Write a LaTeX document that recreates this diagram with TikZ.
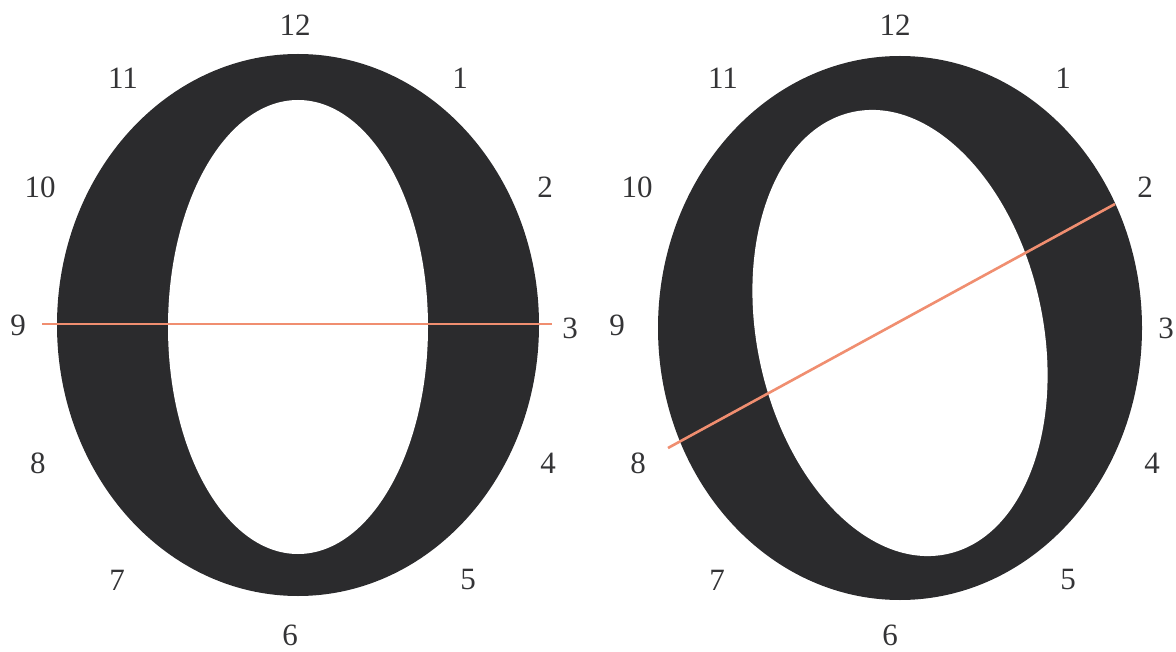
\documentclass[tikz,border=0pt]{standalone}
\usepackage{fontspec}
\setmainfont{Liberation Serif}
\usepackage{tikz}

\definecolor{ink}{RGB}{43,43,45}
\definecolor{salmon}{RGB}{240,142,112}
\definecolor{numgray}{RGB}{52,52,54}

\begin{document}
\begin{tikzpicture}[
  x=1pt, y=-1pt,
  hour/.style={font=\fontsize{31}{34}\selectfont, text=numgray, inner sep=0pt},
  glyph/.style={fill=ink},
  counter/.style={fill=white},
  axisline/.style={draw=salmon, line width=2.6pt}
]
\useasboundingbox (0,0) rectangle (1176,652);

% ---- LEFT letter: vertical stress ----
\fill[glyph]   (298,325) ellipse [x radius=241, y radius=271];
\fill[counter] (298,327) ellipse [x radius=130, y radius=227];

\node[hour] (l12) at (295,25)  {12};
\node[hour] (l1)  at (460,78)  {1};
\node[hour] (l2)  at (545,187) {2};
\node[hour] (l3)  at (570,328) {3};
\node[hour] (l4)  at (548,463) {4};
\node[hour] (l5)  at (468,580) {5};
\node[hour] (l6)  at (290,635) {6};
\node[hour] (l7)  at (117,580) {7};
\node[hour] (l8)  at (38,463)  {8};
\node[hour] (l9)  at (18,325)  {9};
\node[hour] (l10) at (40,187)  {10};
\node[hour] (l11) at (123,78)  {11};

\coordinate (lA) at (42,324);
\coordinate (lB) at (552,324);
\draw[axisline] (lA) -- (lB);

% ---- RIGHT letter: tilted stress ----
\fill[glyph] (900,328) ellipse [x radius=242, y radius=272];
\fill[counter, rotate around={12:(900,333)}] (900,333) ellipse [x radius=143, y radius=226];

\node[hour] (r12) at (895,25)  {12};
\node[hour] (r1)  at (1063,78) {1};
\node[hour] (r2)  at (1145,187) {2};
\node[hour] (r3)  at (1166,328) {3};
\node[hour] (r4)  at (1152,463) {4};
\node[hour] (r5)  at (1068,580) {5};
\node[hour] (r6)  at (890,635) {6};
\node[hour] (r7)  at (717,580) {7};
\node[hour] (r8)  at (638,463) {8};
\node[hour] (r9)  at (617,325) {9};
\node[hour] (r10) at (637,187) {10};
\node[hour] (r11) at (723,78)  {11};

\coordinate (rA) at (668,448);
\coordinate (rB) at (1115,204);
\draw[axisline] (rA) -- (rB);

\end{tikzpicture}
\end{document}
